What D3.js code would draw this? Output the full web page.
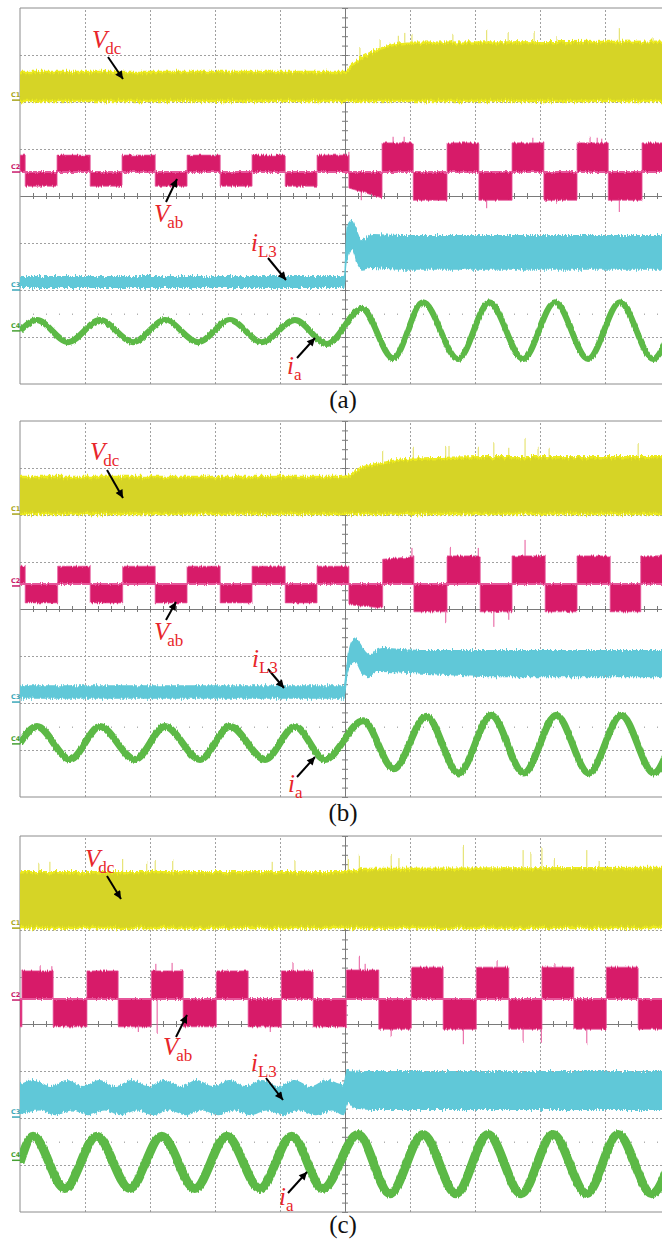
<!DOCTYPE html>
<html>
<head>
<meta charset="utf-8">
<script src="https://cdn.jsdelivr.net/npm/d3@7"></script>
<style>
html,body{margin:0;padding:0;background:#fff;}
svg{display:block;}
</style>
</head>
<body>
<svg id="chart" width="662" height="1240"></svg>
<script>
// ================= DATA (time in divisions 0..10, amplitude in divisions from screen centre) =================
const captions = ["(a)", "(b)", "(c)"];
const channelNames = ["C1", "C2", "C3", "C4"];
const timeTicks = [0, 1, 2, 3, 4, 5, 6, 7, 8, 9, 10];
const ampTicks = [-4, -3, -2, -1, 0, 1, 2, 3, 4];

// channel ground markers
const groundA = [2.04, 0.51, -2.00, -2.87];
const groundB = [2.02, 0.49, -1.98, -2.87];
const groundC = [2.04, 0.51, -1.98, -2.90];

// Vdc envelope (top / bottom) and spikes
const vdcTopA = [[0, 2.64], [5.0, 2.64], [5.11, 2.79], [5.28, 2.96], [5.54, 3.13], [5.74, 3.21], [5.95, 3.26], [10, 3.28]];
const vdcBotA = [[0, 2.02], [10, 2.02]];
const vdcSpikesA = [[5.23, 3.17], [5.54, 3.34], [5.82, 3.43], [5.92, 3.47], [6.03, 3.45], [6.66, 3.45], [7.18, 3.55], [7.51, 3.49], [7.91, 3.49], [8.26, 3.38], [9.22, 3.55], [9.74, 3.38]];

const vdcTopB = [[0, 2.81], [4.98, 2.81], [5.25, 3.0], [5.6, 3.11], [5.97, 3.19], [6.48, 3.21], [7.09, 3.23], [10, 3.23]];
const vdcBotB = [[0, 2.02], [10, 2.02]];
const vdcSpikesB = [[5.58, 3.38], [6.05, 3.43], [6.55, 3.47], [6.60, 3.47], [7.05, 3.43], [7.29, 3.55], [7.52, 3.43], [7.77, 3.64], [7.97, 3.43], [8.14, 3.43], [9.51, 3.51]];

const vdcTopC = [[0, 3.23], [5.0, 3.23], [5.3, 3.30], [10, 3.32]];
const vdcBotC = [[0, 2.04], [10, 2.04]];
const vdcSpikesC = [[0.29, 3.43], [0.46, 3.43], [1.58, 3.49], [1.95, 3.45], [2.08, 3.49], [2.35, 3.49], [3.88, 3.45], [4.23, 3.49], [5.05, 3.53], [5.22, 3.60], [5.71, 3.60], [5.83, 3.53], [6.82, 3.81], [7.74, 3.70], [7.86, 3.64], [8.03, 3.74], [8.22, 3.53], [8.72, 3.70], [8.91, 3.45]];

// Vab: switching instants, block levels per segment [start, end], zero level, spikes
const vabEdgesA = [0, 0.08, 0.57, 1.08, 1.57, 2.08, 2.57, 3.08, 3.57, 4.08, 4.57, 5.06, 5.57, 6.05, 6.57, 7.06, 7.57, 8.06, 8.57, 9.05, 9.57, 10];
const vabLevelsA = [[0.87, 0.87], [0.21, 0.21], [0.87, 0.87], [0.21, 0.21], [0.87, 0.87], [0.21, 0.21], [0.87, 0.87], [0.21, 0.21], [0.87, 0.87], [0.21, 0.21], [0.87, 0.87],
  [0.17, -0.04], [1.13, 1.13], [-0.09, -0.09], [1.13, 1.13], [-0.09, -0.09], [1.13, 1.13], [-0.09, -0.09], [1.13, 1.13], [-0.09, -0.09], [1.13, 1.13]];
const vabZeroA = 0.51;
const vabSpikesA = [[5.06, 0.94], [5.74, 1.26], [5.91, 1.26], [7.89, 1.26], [8.77, 1.26], [8.88, 1.24], [8.95, 1.22], [5.25, -0.09], [7.18, -0.26], [8.26, -0.15], [9.22, -0.34]];

const vabEdgesB = [0, 0.08, 0.58, 1.08, 1.58, 2.08, 2.57, 3.08, 3.57, 4.08, 4.57, 5.06, 5.58, 6.06, 6.57, 7.08, 7.57, 8.08, 8.57, 9.08, 9.55, 10];
const vabLevelsB = [[0.91, 0.91], [0.13, 0.13], [0.91, 0.91], [0.13, 0.13], [0.91, 0.91], [0.13, 0.13], [0.91, 0.91], [0.13, 0.13], [0.91, 0.91], [0.13, 0.13], [0.91, 0.91],
  [0.09, 0.02], [1.06, 1.11], [-0.06, -0.06], [1.13, 1.13], [-0.06, -0.06], [1.13, 1.13], [-0.06, -0.06], [1.13, 1.13], [-0.06, -0.06], [1.13, 1.13]];
const vabZeroB = 0.53;
const vabSpikesB = [[6.03, 1.30], [6.62, 1.30], [7.05, 1.30], [7.77, 1.47], [6.55, -0.28], [7.29, -0.38], [7.52, -0.23]];

const vabEdgesC = [0, 0.03, 0.51, 1.03, 1.51, 2.02, 2.51, 3.02, 3.51, 4.02, 4.51, 5.02, 5.52, 6.02, 6.51, 7.02, 7.52, 8.03, 8.52, 9.02, 9.51, 10];
const vabLevelsC = [[-0.06, -0.06], [1.13, 1.13], [-0.06, -0.06], [1.13, 1.13], [-0.06, -0.06], [1.13, 1.13], [-0.06, -0.06], [1.13, 1.13], [-0.06, -0.06], [1.13, 1.13], [-0.06, -0.06],
  [1.15, 1.15], [-0.11, -0.11], [1.21, 1.21], [-0.11, -0.11], [1.21, 1.21], [-0.11, -0.11], [1.21, 1.21], [-0.11, -0.11], [1.21, 1.21], [-0.11, -0.11]];
const vabZeroC = 0.53;
const vabSpikesC = [[0.31, 1.23], [0.49, 1.23], [2.09, 1.28], [2.34, 1.30], [4.2, 1.32], [1.82, -0.17], [2.11, -0.19], [3.85, -0.17],
  [5.22, 1.43], [5.31, 1.28], [7.34, 1.36], [8.23, 1.30], [5.71, -0.28], [6.82, -0.43], [7.74, -0.38], [8.02, -0.40], [8.72, -0.43]];

// iL3 envelope (top / bottom)
const ilTopA = [[0, -1.70], [4.98, -1.70], [5.03, -0.62], [5.11, -0.51], [5.18, -0.72], [5.26, -0.94], [5.34, -0.87], [5.43, -0.81], [5.85, -0.83], [10, -0.83]];
const ilBotA = [[0, -1.96], [4.99, -1.96], [5.03, -1.40], [5.11, -1.15], [5.18, -1.43], [5.26, -1.57], [5.40, -1.53], [5.85, -1.57], [10, -1.57]];

const ilTopB = [[0, -1.62], [4.98, -1.62], [5.03, -1.09], [5.10, -0.68], [5.17, -0.62], [5.23, -0.72], [5.32, -0.91], [5.40, -0.98], [5.46, -0.89], [5.58, -0.83], [6.15, -0.87], [10, -0.87]];
const ilBotB = [[0, -1.91], [4.99, -1.91], [5.05, -1.32], [5.15, -1.13], [5.25, -1.35], [5.35, -1.45], [5.50, -1.34], [6.50, -1.40], [7.20, -1.45], [10, -1.45]];

const ilTopC = [[0, -1.28], [0.22, -1.19], [0.47, -1.32], [0.72, -1.19], [0.97, -1.32], [1.22, -1.19], [1.47, -1.32], [1.72, -1.19], [1.97, -1.32], [2.22, -1.19], [2.47, -1.32], [2.72, -1.19],
  [2.97, -1.32], [3.22, -1.19], [3.47, -1.32], [3.72, -1.19], [3.97, -1.32], [4.22, -1.19], [4.47, -1.32], [4.72, -1.19], [4.97, -1.28], [5.03, -0.98], [5.30, -1.00], [10, -1.00]];
const ilBotC = [[0, -1.92], [0.30, -1.84], [0.55, -1.94], [0.80, -1.84], [1.05, -1.94], [1.30, -1.84], [1.55, -1.94], [1.80, -1.84], [2.05, -1.94], [2.30, -1.84], [2.55, -1.94], [2.80, -1.84],
  [3.05, -1.94], [3.30, -1.84], [3.55, -1.94], [3.80, -1.84], [4.05, -1.94], [4.30, -1.84], [4.55, -1.94], [4.80, -1.84], [4.98, -1.94], [5.05, -1.68], [5.15, -1.80], [5.40, -1.83], [10, -1.83]];

// ia: successive crest / trough points of the sinusoid
const iaA = [[0, -2.87], [0.26, -2.64], [0.74, -3.11], [1.23, -2.64], [1.74, -3.11], [2.23, -2.64], [2.74, -3.11], [3.23, -2.64], [3.72, -3.11], [4.23, -2.64], [4.72, -3.15],
  [5.26, -2.40], [5.74, -3.45], [6.20, -2.26], [6.74, -3.47], [7.22, -2.26], [7.74, -3.47], [8.23, -2.26], [8.74, -3.47], [9.23, -2.26], [9.74, -3.47], [10, -2.87]];
const iaB = [[0, -2.85], [0.26, -2.50], [0.77, -3.20], [1.23, -2.50], [1.77, -3.20], [2.23, -2.50], [2.77, -3.20], [3.23, -2.50], [3.77, -3.20], [4.23, -2.50], [4.69, -3.20],
  [5.28, -2.38], [5.75, -3.40], [6.25, -2.28], [6.75, -3.49], [7.25, -2.26], [7.75, -3.49], [8.25, -2.26], [8.75, -3.49], [9.25, -2.26], [9.75, -3.49], [10, -2.88]];
const iaC = [[0, -2.95], [0.20, -2.39], [0.69, -3.50], [1.18, -2.39], [1.69, -3.50], [2.18, -2.39], [2.69, -3.50], [3.18, -2.39], [3.69, -3.50], [4.18, -2.39], [4.66, -3.50],
  [5.20, -2.35], [5.69, -3.61], [6.20, -2.35], [6.71, -3.61], [7.20, -2.35], [7.71, -3.61], [8.20, -2.35], [8.72, -3.61], [9.20, -2.35], [9.72, -3.61], [10, -2.95]];

// ================= LAYOUT / STYLE =================
const panelTop = [8, 421, 836];
const captionGap = [24, 24, 21];
const divPxY = 47;
const panelH = 8 * divPxY;
const iaWidth = [6, 7, 9];
const col = { vdc: "#d6d426", vdcEdge: "#ecea1e", vdcSpike: "#e2de5a", vab: "#d71b69", vabEdge: "#e6569a",
  il: "#60c8d8", ia: "#5cb946", red: "#e8262b", grid: "#a0a0a0", axis: "#7a7a7a" };
const markerCol = ["#a8a41a", "#c8196a", "#3aa6b8", "#45a032"];
const serif = "Liberation Serif, Times New Roman, serif";

const annotations = [
  [ {m: "V", s: "dc", x: 92, y: 40, a: [108, 49, 123, 71]},
    {m: "V", s: "ab", x: 154, y: 214, a: [166, 194, 177, 171]},
    {m: "i", s: "L3", x: 251, y: 243, a: [268, 250, 286, 272]},
    {m: "i", s: "a", x: 287, y: 366, a: [297, 350, 315, 330]} ],
  [ {m: "V", s: "dc", x: 90, y: 39, a: [107, 49, 123, 77]},
    {m: "V", s: "ab", x: 154, y: 219, a: [166, 199, 176, 181]},
    {m: "i", s: "L3", x: 252, y: 246, a: [268, 248, 284, 267]},
    {m: "i", s: "a", x: 288, y: 371, a: [297, 356, 315, 336]} ],
  [ {m: "V", s: "dc", x: 85, y: 31, a: [107, 40, 121, 63]},
    {m: "V", s: "ab", x: 163, y: 219, a: [176, 201, 187, 179]},
    {m: "i", s: "L3", x: 251, y: 235, a: [266, 242, 283, 264]},
    {m: "i", s: "a", x: 279, y: 369, a: [288, 357, 307, 336]} ]
];

const panels = [
  {cap: captions[0], gnd: groundA, vdcTop: vdcTopA, vdcBot: vdcBotA, vdcSp: vdcSpikesA, vabE: vabEdgesA, vabL: vabLevelsA, vabZ: vabZeroA, vabSp: vabSpikesA, ilTop: ilTopA, ilBot: ilBotA, ia: iaA},
  {cap: captions[1], gnd: groundB, vdcTop: vdcTopB, vdcBot: vdcBotB, vdcSp: vdcSpikesB, vabE: vabEdgesB, vabL: vabLevelsB, vabZ: vabZeroB, vabSp: vabSpikesB, ilTop: ilTopB, ilBot: ilBotB, ia: iaB},
  {cap: captions[2], gnd: groundC, vdcTop: vdcTopC, vdcBot: vdcBotC, vdcSp: vdcSpikesC, vabE: vabEdgesC, vabL: vabLevelsC, vabZ: vabZeroC, vabSp: vabSpikesC, ilTop: ilTopC, ilBot: ilBotC, ia: iaC}
];

// ================= DRAW =================
const svg = d3.select("#chart");
const defs = svg.append("defs");
const x = d3.scaleLinear().domain([0, 10]).range([20, 670]);

// noise texture (vertical jitter only)
function addJitter(id, freq, scale) {
  const f = defs.append("filter").attr("id", id).attr("filterUnits", "userSpaceOnUse")
    .attr("x", 0).attr("y", 0).attr("width", 662).attr("height", 1240)
    .attr("color-interpolation-filters", "sRGB");
  f.append("feTurbulence").attr("type", "fractalNoise").attr("baseFrequency", freq).attr("numOctaves", 2).attr("seed", 7).attr("result", "n");
  const ct = f.append("feComponentTransfer").attr("in", "n").attr("result", "n2");
  ct.append("feFuncR").attr("type", "linear").attr("slope", 0).attr("intercept", 0.5);
  f.append("feDisplacementMap").attr("in", "SourceGraphic").attr("in2", "n2").attr("scale", scale)
    .attr("xChannelSelector", "R").attr("yChannelSelector", "G");
}
addJitter("jag", "0.8 0.06", 7);
addJitter("jagS", "0.8 0.06", 4);

defs.append("marker").attr("id", "ah").attr("viewBox", "0 0 10 10").attr("refX", 10).attr("refY", 5)
  .attr("markerUnits", "userSpaceOnUse").attr("markerWidth", 10).attr("markerHeight", 8).attr("orient", "auto")
  .append("path").attr("d", "M0,0 L10,5 L0,10 Z").attr("fill", "#000");

panels.forEach((P, i) => {
  const top = panelTop[i], bottom = top + panelH;
  const y = d3.scaleLinear().domain([-4, 4]).range([bottom, top]);
  const g = svg.append("g");

  defs.append("clipPath").attr("id", "clip" + i).append("rect")
    .attr("x", x(0)).attr("y", top).attr("width", 662 - x(0)).attr("height", panelH);

  // dashed graticule
  g.append("g").attr("transform", `translate(0,${bottom})`)
    .call(d3.axisBottom(x).tickValues(timeTicks.filter(t => t > 0 && t !== 5)).tickSize(-panelH).tickFormat(""))
    .call(s => { s.select(".domain").remove(); s.selectAll("line").attr("stroke", col.grid).attr("stroke-dasharray", "2,2"); });
  g.append("g").attr("transform", `translate(${x(0)},0)`)
    .call(d3.axisLeft(y).tickValues(ampTicks.filter(v => v > -4 && v < 4 && v !== 0)).tickSize(-(x(10) - x(0))).tickFormat(""))
    .call(s => { s.select(".domain").remove(); s.selectAll("line").attr("stroke", col.grid).attr("stroke-dasharray", "2,2"); });

  // minor dots row
  const minorT = d3.range(0, 50).map(k => k / 5).filter(t => t > 0);
  g.append("g").attr("transform", `translate(0,${y(-2.5)})`)
    .call(d3.axisBottom(x).tickValues(minorT).tickSize(1.5).tickFormat(""))
    .call(s => { s.select(".domain").remove(); s.selectAll("line").attr("stroke", "#b0b0b0"); });

  // centre axes with minor ticks
  const minorV = d3.range(-20, 21).map(k => k / 5);
  [d3.axisTop, d3.axisBottom].forEach(ax => {
    g.append("g").attr("transform", `translate(0,${y(0)})`)
      .call(ax(x).tickValues(minorT).tickSize(3).tickSizeOuter(0).tickFormat(""))
      .call(s => { s.selectAll("line,path").attr("stroke", col.axis); });
  });
  [d3.axisLeft, d3.axisRight].forEach(ax => {
    g.append("g").attr("transform", `translate(${x(5)},0)`)
      .call(ax(y).tickValues(minorV).tickSize(3).tickSizeOuter(0).tickFormat(""))
      .call(s => { s.selectAll("line,path").attr("stroke", col.axis); });
  });

  // frame
  g.append("line").attr("x1", x(0)).attr("x2", 662).attr("y1", y(4)).attr("y2", y(4)).attr("stroke", "#8c8c8c");
  g.append("line").attr("x1", x(0)).attr("x2", 662).attr("y1", y(-4)).attr("y2", y(-4)).attr("stroke", "#8c8c8c");
  g.append("line").attr("x1", x(0)).attr("x2", x(0)).attr("y1", y(4)).attr("y2", y(-4)).attr("stroke", "#8c8c8c");

  const tr = g.append("g").attr("clip-path", `url(#clip${i})`);
  const lineM = d3.line().x(d => x(d[0])).y(d => y(d[1])).curve(d3.curveMonotoneX);
  const band = (t, b) => lineM(t) + "L" + lineM(b.slice().reverse()).slice(1) + "Z";

  // ---- Vdc ----
  const gV = tr.append("g").attr("filter", "url(#jag)");
  gV.selectAll("line.sp").data(P.vdcSp).join("line").attr("class", "sp")
    .attr("x1", d => x(d[0])).attr("x2", d => x(d[0])).attr("y1", d => y(d[1])).attr("y2", y(P.vdcBot[0][1]))
    .attr("stroke", col.vdcSpike).attr("stroke-width", 1);
  gV.append("path").attr("d", band(P.vdcTop, P.vdcBot)).attr("fill", col.vdc);
  gV.append("path").attr("d", lineM(P.vdcTop)).attr("fill", "none").attr("stroke", col.vdcEdge).attr("stroke-width", 2.5);
  gV.append("path").attr("d", lineM(P.vdcBot)).attr("fill", "none").attr("stroke", col.vdcEdge).attr("stroke-width", 2.5);

  // ---- Vab ----
  const gA = tr.append("g").attr("filter", "url(#jagS)");
  const segs = P.vabL.map((lv, k) => [[P.vabE[k], lv[0]], [P.vabE[k + 1], lv[1]]]);
  gA.selectAll("line.sp").data(P.vabSp).join("line").attr("class", "sp")
    .attr("x1", d => x(d[0])).attr("x2", d => x(d[0])).attr("y1", d => y(d[1])).attr("y2", y(P.vabZ))
    .attr("stroke", col.vabEdge).attr("stroke-width", 1);
  const blk = d3.area().x(d => x(d[0])).y0(y(P.vabZ)).y1(d => y(d[1]));
  gA.selectAll("path.blk").data(segs).join("path").attr("class", "blk").attr("d", blk)
    .attr("fill", col.vab).attr("stroke", col.vabEdge).attr("stroke-width", 0.8);
  gA.append("line").attr("x1", x(0)).attr("x2", x(10)).attr("y1", y(P.vabZ)).attr("y2", y(P.vabZ))
    .attr("stroke", col.vabEdge).attr("stroke-width", 2);

  // ---- iL3 ----
  const gI = tr.append("g").attr("filter", "url(#jag)");
  gI.append("path").attr("d", band(P.ilTop, P.ilBot)).attr("fill", col.il);

  // ---- ia ----
  const gS = tr.append("g").attr("filter", "url(#jagS)");
  gS.append("path").attr("d", lineM(P.ia)).attr("fill", "none").attr("stroke", col.ia)
    .attr("stroke-width", iaWidth[i]).attr("stroke-linejoin", "round");

  // channel ground markers
  P.gnd.forEach((v, k) => {
    g.append("line").attr("x1", 12).attr("x2", 20).attr("y1", y(v)).attr("y2", y(v))
      .attr("stroke", markerCol[k]).attr("stroke-width", 1.5);
    g.append("text").attr("x", 11).attr("y", y(v) - 3).text(channelNames[k])
      .attr("font-family", "DejaVu Sans, sans-serif").attr("font-size", 6.5).attr("font-weight", "bold")
      .attr("fill", markerCol[k]);
  });

  // annotations
  annotations[i].forEach(a => {
    g.append("line").attr("x1", a.a[0]).attr("y1", top + a.a[1]).attr("x2", a.a[2]).attr("y2", top + a.a[3])
      .attr("stroke", "#000").attr("stroke-width", 2).attr("marker-end", "url(#ah)");
    const t = g.append("text").attr("x", a.x).attr("y", top + a.y).attr("fill", col.red).attr("font-family", serif);
    t.append("tspan").attr("font-style", "italic").attr("font-size", 25).text(a.m);
    t.append("tspan").attr("font-size", 17).attr("dx", a.m === "V" ? -2 : 0).attr("dy", 6).text(a.s);
  });

  // caption
  svg.append("text").attr("x", 343).attr("y", bottom + captionGap[i]).attr("text-anchor", "middle")
    .attr("font-family", serif).attr("font-size", 25).attr("fill", "#111").text(P.cap);
});
</script>
</body>
</html>
